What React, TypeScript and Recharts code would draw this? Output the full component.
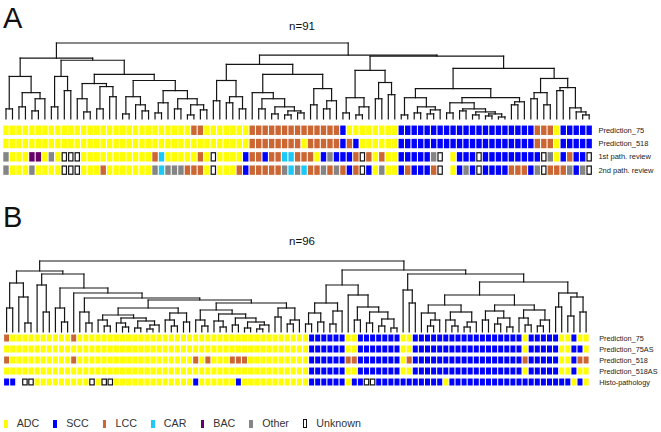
import React from 'react';
import { ComposedChart, XAxis, YAxis, ReferenceLine, Scatter } from 'recharts';

const W = 661;
const H = 432;

// class code -> colour
const classColors: Record<string, string> = {
  Y: '#ffff00',
  B: '#0000ff',
  L: '#cc6633',
  C: '#1ec8f5',
  P: '#660066',
  G: '#858585',
};
const legendCodes = ['Y', 'B', 'L', 'C', 'P', 'G', 'U'];
const legendNames = ['ADC', 'SCC', 'LCC', 'CAR', 'BAC', 'Other', 'Unknown'];

// ---- panel A (n=91), rows run-length coded: Y=ADC B=SCC L=LCC C=CAR P=BAC G=Other U=Unknown W=blank
const rowNamesA = ['Prediction_75', 'Prediction_518', '1st path. review', '2nd path. review'];
const rowsA = [
  '29Y 2L 7Y 14L 1B 8Y 21B 3L 1Y 5B',
  '38Y 8L 1Y 5L 1B 1L 1B 6Y 21B 3L 1Y 5B',
  '1G 3Y 2P 1Y 1G 1Y 3U 11Y 1L 1C 5Y 1L 1Y 1U 4Y 1B 2L 1B 2L 2C 3L 1Y 1B 1G 3B 1L 1U 1L 1Y 1L 2Y 5B 1G 1U 1W 1Y 3B 1U 9B 1U 1G 1Y 1B 1L 2B 1U',
  '1G 3Y 1G 4Y 3U 3Y 1L 7Y 1G 1C 3G 3L 1Y 1U 3Y 1L 1B 5L 1G 1C 1G 1C 2L 1G 1L 1G 1L 1B 1L 1U 1B 1Y 1G 2Y 1B 1L 3B 1L 1U 1W 1Y 1B 1G 1B 1U 4B 3L 1B 1G 1U 3L 1G 1B 1G 1U',
];

// dendrogram A: (left,right)height, leaves are column indices
const treeA_L0a = '((0,1)10,((2,3)12,((4,5)8,6)20)26)42';
const treeA_L0b1 = '((7,8)12,(9,10)28)42';
const treeA_L0b2a = '((11,(12,13)7)20,((14,15)10,(16,17)22)32)35';
const treeA_L0b2b = '(((18,19)5,(20,(21,22)8)14)22,(((23,24)6,25)16,((26,27)10,((28,29)4,(30,31)9)14)20)28)38';
const treeA_R1a = '((32,33)18,((34,35)16,(36,37)10)22)38';
const treeA_R1b = '((38,((39,40)10,((41,42)5,((43,44)4,(45,46)6)8)12)20)26,((47,48)14,((49,50)10,51)18)30)44';
const treeA_R3 = '(((52,53)6,((54,55)4,56)12)21,((57,58)20,(59,60)24)36)48';
const treeA_R4a = '(((61,62)4,((63,64)6,((65,66)5,67)9)12)21,(((68,69)6,((70,71)8,((72,73)4,((74,75)3,(76,77)2)5)7)10)16,((78,79)14,80)17)21)30';
const treeA_R4b = '(((81,82)20,(83,84)14)26,((85,86)28,(87,(88,(89,90)4)7)11)31)40';
const treeA =
  '((' + treeA_L0a + ',(' + treeA_L0b1 + ',(' + treeA_L0b2a + ',' + treeA_L0b2b + ')44)58)60,' +
  '((' + treeA_R1a + ',' + treeA_R1b + ')54,(' + treeA_R3 + ',(' + treeA_R4a + ',' + treeA_R4b + ')50)62)63)75';

// ---- panel B (n=96)
const rowNamesB = ['Prediction_75', 'Prediction_75AS', 'Prediction_518', 'Prediction_518AS', 'Histo-pathology'];
const rowsB = [
  '1L 10Y 1L 38Y 6B 2Y 7B 2Y 18B 1Y 5B 2Y 1B 2Y',
  '50Y 6B 2Y 7B 2Y 18B 1Y 5B 2Y 2B 1Y',
  '1L 10Y 1L 19Y 1L 1Y 1L 3Y 3L 10Y 6B 2L 7B 1Y 1L 18B 1L 5B 2Y 1B 2L',
  '50Y 6B 2Y 7B 2Y 18B 1Y 5B 2Y 1B 2Y',
  '2B 1W 2U 9Y 1U 1Y 2U 13Y 1B 6Y 1B 11Y 6B 1Y 2B 2U 11B 1Y 20B 1Y 1B 1Y',
];

const treeB_0_4 = '((0,1)24,(2,(3,4)9)35)49';
const treeB_5_7 = '(5,(6,7)20)47';
const treeB_8_10 = '(8,(9,10)10)24';
const treeB_12_14 = '(12,(13,14)9)20';
const treeB_15_25 = '((15,(16,17)6)12,((18,(19,20)5)9,((21,22)4,((23,24)3,25)7)11)14)17';
const treeB_26_30 = '((26,(27,28)6)12,(29,30)10)19';
const treeB_31_43 = '((31,(32,33)6)12,((34,(35,36)5)11,((37,38)7,((39,40)4,((41,42)3,43)7)10)14)18)22';
const treeB_44_48 = '((44,45)15,((46,47)8,48)12)24';
const treeB_49_55 = '(((49,50)8,(51,52)10)19,((53,54)8,55)21)29';
const treeB_56_64 = '(56,((57,58)12,((59,60)9,((61,62)6,(63,64)4)13)20)25)37';
const treeB_65_67 = '(65,(66,67)29)42';
const treeB_68_77 = '((68,((69,70)6,71)12)19,((72,(73,74)6)12,((75,76)5,77)10)20)27';
const treeB_78_89 = '(((78,79)12,((80,81)8,(82,83)5)14)21,((84,(85,86)7)14,((87,88)6,89)12)22)27';
const treeB_90_95 = '((90,91)25,((92,93)16,(94,95)20)35)39';
const treeB_left =
  '(' + treeB_0_4 + ',(' + treeB_5_7 + ',(' + treeB_8_10 + ',(11,(' + treeB_12_14 + ',((' +
  treeB_15_25 + ',' + treeB_26_30 + ')24,(' + treeB_31_43 + ',' + treeB_44_48 + ')29)32)34)39)44)58)61';
const treeB_right =
  '((' + treeB_49_55 + ',' + treeB_56_64 + ')47,(' + treeB_65_67 + ',((' + treeB_68_77 + ',' +
  treeB_78_89 + ')37,' + treeB_90_95 + ')50)58)62';
const treeB = '(' + treeB_left + ',' + treeB_right + ')71';

type Seg = { x1: number; y1: number; x2: number; y2: number };

function parseTree(src: string): Seg[] {
  let i = 0;
  const segs: Seg[] = [];
  const num = () => {
    const s = i;
    while (i < src.length && /[0-9.]/.test(src[i])) i++;
    return parseFloat(src.slice(s, i));
  };
  const node = (): { x: number; h: number } => {
    if (src[i] === '(') {
      i++;
      const a = node();
      i++; // ,
      const b = node();
      i++; // )
      const h = num();
      segs.push({ x1: a.x, y1: a.h, x2: a.x, y2: h });
      segs.push({ x1: b.x, y1: b.h, x2: b.x, y2: h });
      segs.push({ x1: a.x, y1: h, x2: b.x, y2: h });
      return { x: (a.x + b.x) / 2, h };
    }
    return { x: num(), h: 0 };
  };
  node();
  return segs;
}

function expand(rle: string): string {
  return rle
    .split(' ')
    .map((t) => t.slice(-1).repeat(parseInt(t, 10)))
    .join('');
}

function cellData(rows: string[]) {
  return rows.flatMap((r, ri) => expand(r).split('').map((c, k) => ({ x: k, y: ri, c })));
}

const cellShape = (w: number, h: number, uw: number) => (p: any) => {
  const { cx, cy, payload } = p;
  const c = payload.c;
  if (c === 'W') return <g />;
  if (c === 'U')
    return (
      <rect x={cx - uw / 2} y={cy - h / 2 + 0.6} width={uw} height={h - 1.2} fill="#fff" stroke="#111" strokeWidth={1.2} />
    );
  return <rect x={cx - w / 2} y={cy - h / 2} width={w} height={h} fill={classColors[c]} />;
};

interface TreeProps {
  src: string;
  n: number;
  maxH: number;
  top: number;
  bottom: number;
  left: number;
  right: number;
}

const Tree: React.FC<TreeProps> = ({ src, n, maxH, top, bottom, left, right }) => {
  const segs = React.useMemo(() => parseTree(src), [src]);
  return (
    <div style={{ position: 'absolute', left: 0, top: 0 }}>
      <ComposedChart width={W} height={H} margin={{ top, bottom: H - bottom, left, right: W - right }}>
        <XAxis type="number" dataKey="x" domain={[-0.5, n - 0.5]} allowDataOverflow hide />
        <YAxis type="number" domain={[0, maxH]} allowDataOverflow hide />
        {segs.map((s, i) => (
          <ReferenceLine
            key={i}
            segment={[
              { x: s.x1, y: s.y1 },
              { x: s.x2, y: s.y2 },
            ]}
            stroke="#151515"
            strokeWidth={1.2}
            strokeLinecap="square"
            ifOverflow="visible"
          />
        ))}
      </ComposedChart>
    </div>
  );
};

interface CellsProps {
  rows: string[];
  names: string[];
  n: number;
  top: number;
  bottom: number;
  left: number;
  right: number;
  w: number;
  h: number;
  uw: number;
  tickSize: number;
  fontSize: number;
}

const Cells: React.FC<CellsProps> = ({ rows, names, n, top, bottom, left, right, w, h, uw, tickSize, fontSize }) => {
  const data = React.useMemo(() => cellData(rows), [rows]);
  const axisW = W - right - 1;
  const renderTick = (p: any) => (
    <text x={p.x} y={p.y} dy="0.35em" fontSize={fontSize} fill="#222" textAnchor="start">
      {names[p.payload.value]}
    </text>
  );
  return (
    <div style={{ position: 'absolute', left: 0, top: 0 }}>
      <ComposedChart width={W} height={H} margin={{ top, bottom: H - bottom, left, right: W - right - axisW }}>
        <XAxis type="number" dataKey="x" domain={[-0.5, n - 0.5]} allowDataOverflow hide />
        <YAxis
          type="number"
          dataKey="y"
          orientation="right"
          width={axisW}
          domain={[-0.5, rows.length - 0.5]}
          allowDataOverflow
          reversed
          ticks={names.map((_, i) => i)}
          interval={0}
          axisLine={false}
          tickLine={false}
          tickSize={tickSize}
          tickMargin={2}
          tick={renderTick}
        />
        <Scatter data={data} isAnimationActive={false} shape={cellShape(w, h, uw)} />
      </ComposedChart>
    </div>
  );
};

export default function App() {
  return (
    <div
      style={{
        position: 'absolute',
        left: 0,
        top: 0,
        width: W,
        height: H,
        background: '#fff',
        fontFamily: '"Liberation Sans", Arial, sans-serif',
        overflow: 'hidden',
      }}
    >
      <svg width={W} height={H} style={{ position: 'absolute', left: 0, top: 0 }}>
        <text x={3} y={27.5} fontSize={29} fill="#111">A</text>
        <text x={3} y={227} fontSize={29} fill="#111">B</text>
        <text x={302} y={30} fontSize={11.5} textAnchor="middle" fill="#111">n=91</text>
        <text x={302} y={245} fontSize={11.5} textAnchor="middle" fill="#111">n=96</text>
      </svg>

      <Tree src={treeA} n={91} maxH={75} top={43} bottom={119} left={2.76} right={592.4} />
      <Cells
        rows={rowsA}
        names={rowNamesA}
        n={91}
        top={123.6}
        bottom={176.8}
        left={2.76}
        right={592.4}
        w={5.4}
        h={9.4}
        uw={4.3}
        tickSize={4}
        fontSize={7.5}
      />

      <Tree src={treeB} n={96} maxH={71} top={261} bottom={332} left={3.55} right={589.15} />
      <Cells
        rows={rowsB}
        names={rowNamesB}
        n={96}
        top={332.5}
        bottom={387.5}
        left={3.55}
        right={589.15}
        w={5}
        h={7}
        uw={4.4}
        tickSize={8}
        fontSize={7.3}
      />

      <div
        style={{
          position: 'absolute',
          left: 4,
          top: 417,
          height: 13,
          display: 'flex',
          alignItems: 'center',
          fontSize: 10.7,
          color: '#333',
          lineHeight: '13px',
        }}
      >
        {legendCodes.map((c, i) => (
          <div key={c} style={{ display: 'flex', alignItems: 'center', marginRight: 14.2 }}>
            <span
              style={{
                display: 'inline-block',
                width: c === 'U' ? 2.4 : 3.5,
                height: c === 'U' ? 6.6 : 8,
                background: c === 'U' ? '#fff' : classColors[c],
                border: c === 'U' ? '1.2px solid #111' : 'none',
                marginRight: c === 'U' ? 8.8 : 9.2,
              }}
            />
            <span>{legendNames[i]}</span>
          </div>
        ))}
      </div>
    </div>
  );
}
